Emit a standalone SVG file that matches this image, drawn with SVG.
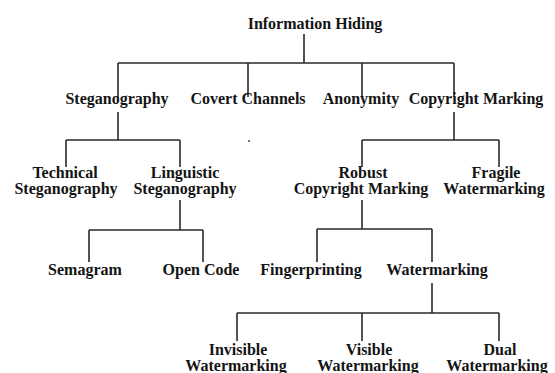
<svg xmlns="http://www.w3.org/2000/svg" width="555" height="373" viewBox="0 0 555 373">
<style>
.bg{fill:#ffffff}
.t{font-family:"Liberation Serif","Times New Roman",serif;font-weight:bold;font-size:16px;fill:#141414;text-anchor:middle}
.c line,.c path{stroke:#2a2a2a;stroke-width:1.6;fill:none}
</style>
<rect class="bg" x="0" y="0" width="555" height="373"/>
<g id="connectors" class="c">
<path d="M304 34V63M118 63H454M118 63V98M248 63V97M362 63V97M454 63V96"/>
<path d="M118 112V140M66 140H180M66 140V167M180 140V167"/>
<path d="M454 112V140M362 140H499M362 140V167M499 140V167"/>
<path d="M180 200V230M89 230H203M89 230V262M203 230V262"/>
<path d="M362 200V229M317 229H432M317 229V262M432 229V262"/>
<path d="M432 283V313M237 313H499M237 313V341M362 313V341M499 313V341"/>
</g>
<circle cx="249" cy="141" r="1" fill="#444"/>
<g id="n-information-hiding"><text class="t" x="315" y="29">Information Hiding</text></g>
<g id="n-steganography"><text class="t" x="117" y="104">Steganography</text></g>
<g id="n-covert-channels"><text class="t" x="248" y="104">Covert Channels</text></g>
<g id="n-anonymity"><text class="t" x="361" y="104">Anonymity</text></g>
<g id="n-copyright-marking"><text class="t" x="476" y="104">Copyright Marking</text></g>
<g id="n-technical-steganography"><text class="t" x="65" y="178">Technical</text><text class="t" x="66" y="194">Steganography</text></g>
<g id="n-linguistic-steganography"><text class="t" x="185" y="178">Linguistic</text><text class="t" x="185" y="194">Steganography</text></g>
<g id="n-robust-copyright-marking"><text class="t" x="363" y="178">Robust</text><text class="t" x="361" y="194">Copyright Marking</text></g>
<g id="n-fragile-watermarking"><text class="t" x="496" y="178">Fragile</text><text class="t" x="494" y="194">Watermarking</text></g>
<g id="n-semagram"><text class="t" x="85" y="275">Semagram</text></g>
<g id="n-open-code"><text class="t" x="201" y="275">Open Code</text></g>
<g id="n-fingerprinting"><text class="t" x="311" y="275">Fingerprinting</text></g>
<g id="n-watermarking"><text class="t" x="437" y="275">Watermarking</text></g>
<g id="n-invisible-watermarking"><text class="t" x="238" y="355">Invisible</text><text class="t" x="236" y="371">Watermarking</text></g>
<g id="n-visible-watermarking"><text class="t" x="369" y="355">Visible</text><text class="t" x="368" y="371">Watermarking</text></g>
<g id="n-dual-watermarking"><text class="t" x="500" y="355">Dual</text><text class="t" x="497" y="371">Watermarking</text></g>
</svg>
